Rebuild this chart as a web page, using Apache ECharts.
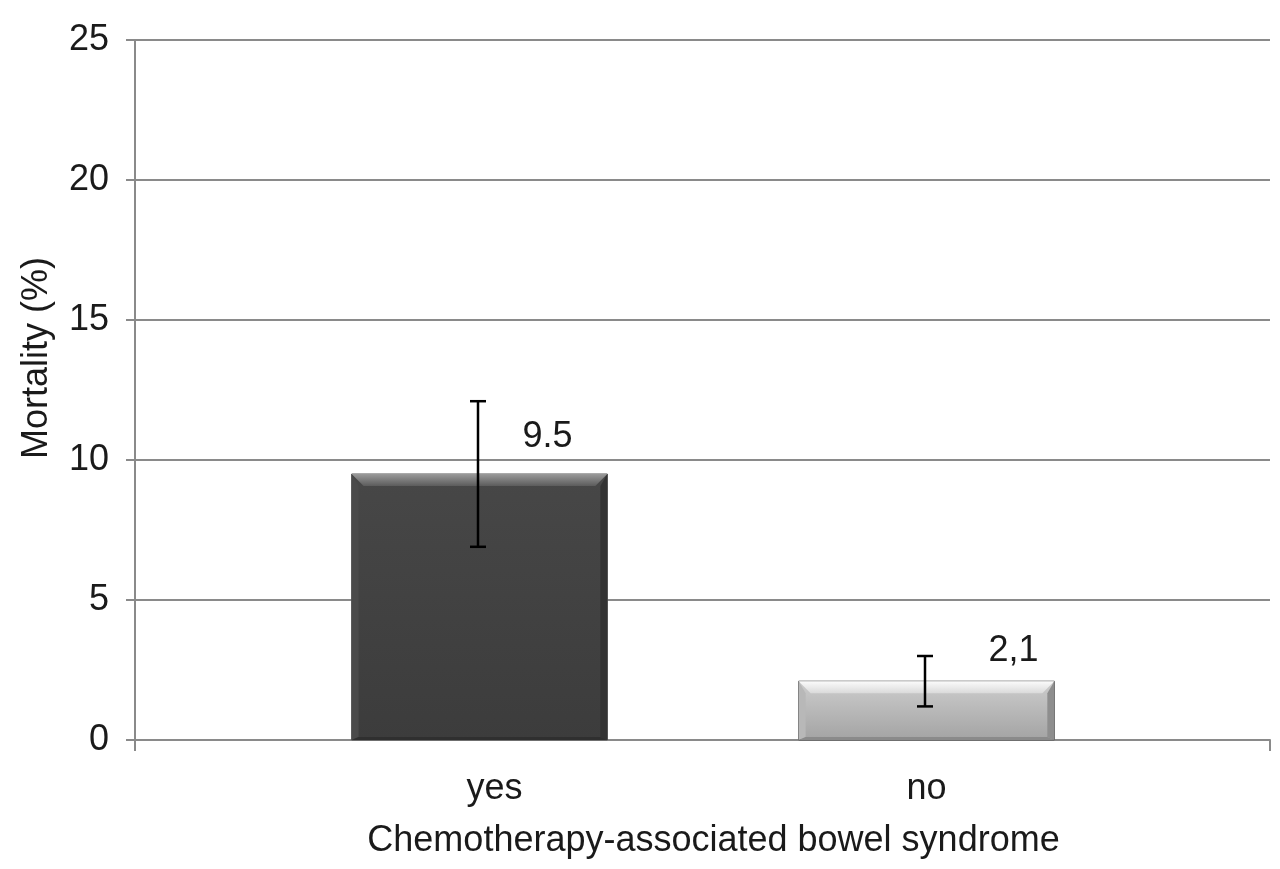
<!DOCTYPE html>
<html>
<head>
<meta charset="utf-8">
<script src="https://cdn.jsdelivr.net/npm/echarts@6/dist/echarts.min.js"></script>
<style>
html,body{margin:0;padding:0;background:#fff;}
#chart{width:1280px;height:869px;}
</style>
</head>
<body>
<div id="chart"></div>
<script>
// ---- data ----
const categories = ['yes', 'no'];
const mortality = [9.5, 2.1];
const errLow = [6.9, 1.2];
const errHigh = [12.1, 3.0];
const valueLabels = ['9.5', '2,1'];
const yTicks = [0, 5, 10, 15, 20, 25];

const FONT = 'Liberation Sans';
const GRAY = '#8a8a8a';

const barStyles = [
  { body: ['#474747', '#3c3c3c'], top: ['#9a9a9a', '#5c5c5c'], left: '#4a4a4a', right: '#333333', bottom: '#2f2f2f' },
  { body: ['#cdcdcd', '#a3a3a3'], top: ['#fbfbfb', '#dadada'], left: '#b8b8b8', right: '#8e8e8e', bottom: '#8a8a8a' }
];
const labelOffsets = [[68, -37], [87, -30]];

const chart = echarts.init(document.getElementById('chart'), null, { renderer: 'canvas' });

const txt = { fontFamily: FONT, fontSize: 36, color: '#1a1a1a' };

const option = {
  animation: false,
  backgroundColor: '#ffffff',
  grid: [
    { left: 135, right: 10, top: 40, bottom: 129 },
    { left: 256, right: 130, top: 40, bottom: 129 }
  ],
  xAxis: [
    {
      gridIndex: 0, type: 'value', min: 0, max: 1, interval: 1,
      axisLine: { show: true, lineStyle: { color: GRAY, width: 2 } },
      axisTick: { show: true, length: 11, lineStyle: { color: GRAY, width: 2 } },
      axisLabel: { show: false },
      splitLine: { show: false },
      name: 'Chemotherapy-associated bowel syndrome',
      nameLocation: 'middle',
      nameGap: 83,
      nameTextStyle: { fontFamily: FONT, fontSize: 36, color: '#1a1a1a', padding: [0, 0, 0, 22] }
    },
    {
      gridIndex: 1, type: 'category', data: categories, boundaryGap: true,
      axisLine: { show: false }, axisTick: { show: false },
      axisLabel: {
        fontFamily: FONT, fontSize: 36, color: '#1a1a1a', margin: 31,
        formatter: (v, i) => (i === 0 ? '{s|' + v + '}' : '{n|' + v + '}'),
        rich: {
          s: Object.assign({ padding: [0, 0, 0, 30] }, txt),
          n: Object.assign({}, txt)
        }
      },
      splitLine: { show: false }
    }
  ],
  yAxis: [
    {
      gridIndex: 0, type: 'value', min: 0, max: 25, interval: 5,
      axisLine: { show: true, lineStyle: { color: GRAY, width: 2 } },
      axisTick: { show: true, length: 9, lineStyle: { color: GRAY, width: 2 } },
      axisLabel: {
        fontFamily: FONT, fontSize: 36, color: '#1a1a1a', margin: 26,
        formatter: v => (yTicks.indexOf(v) >= 0 ? String(v) : '')
      },
      splitLine: { show: true, lineStyle: { color: GRAY, width: 2 } },
      name: 'Mortality (%)',
      nameLocation: 'middle',
      nameGap: 80,
      nameRotate: 90,
      nameTextStyle: { fontFamily: FONT, fontSize: 36, color: '#1a1a1a', padding: [0, 0, 0, 64] }
    },
    {
      gridIndex: 1, type: 'value', min: 0, max: 25, interval: 5, show: false
    }
  ],
  series: [
    {
      type: 'custom',
      xAxisIndex: 1, yAxisIndex: 1,
      data: categories.map((c, i) => [i, mortality[i]]),
      renderItem: function (params, api) {
        const i = params.dataIndex;
        const st = barStyles[i];
        const top = api.coord([api.value(0), api.value(1)]);
        const base = api.coord([api.value(0), 0]);
        const bw = api.size([1, 0])[0] * 0.572;
        const l = top[0] - bw / 2, r = top[0] + bw / 2;
        const y0 = top[1], y1 = base[1];
        const b = 12, s = 7;
        const lin = (c) => new echarts.graphic.LinearGradient(0, 0, 0, 1, [{ offset: 0, color: c[0] }, { offset: 1, color: c[1] }]);
        return {
          type: 'group',
          children: [
            { type: 'rect', shape: { x: l, y: y0, width: bw, height: y1 - y0 }, style: { fill: lin(st.body), stroke: '#555', lineWidth: 1 } },
            { type: 'polygon', shape: { points: [[l, y0], [r, y0], [r - b, y0 + b], [l + b, y0 + b]] }, style: { fill: lin(st.top) } },
            { type: 'polygon', shape: { points: [[l, y0], [l + s, y0 + b], [l + s, y1 - 3], [l, y1]] }, style: { fill: st.left } },
            { type: 'polygon', shape: { points: [[r, y0], [r - s, y0 + b], [r - s, y1 - 3], [r, y1]] }, style: { fill: st.right } },
            { type: 'polygon', shape: { points: [[l, y1], [r, y1], [r - s, y1 - 3], [l + s, y1 - 3]] }, style: { fill: st.bottom } }
          ]
        };
      },
      z: 3
    },
    {
      type: 'custom',
      xAxisIndex: 1, yAxisIndex: 1,
      data: categories.map((c, i) => [i, errLow[i], errHigh[i]]),
      renderItem: function (params, api) {
        const lo = api.coord([api.value(0), api.value(1)]);
        const hi = api.coord([api.value(0), api.value(2)]);
        const x = lo[0] - 1.5, cw = 8;
        const st = { stroke: '#000', lineWidth: 2.5 };
        return {
          type: 'group',
          children: [
            { type: 'line', shape: { x1: x, y1: lo[1], x2: x, y2: hi[1] }, style: st },
            { type: 'line', shape: { x1: x - cw, y1: lo[1], x2: x + cw, y2: lo[1] }, style: st },
            { type: 'line', shape: { x1: x - cw, y1: hi[1], x2: x + cw, y2: hi[1] }, style: st }
          ]
        };
      },
      z: 5
    },
    {
      type: 'custom',
      xAxisIndex: 1, yAxisIndex: 1,
      data: categories.map((c, i) => [i, mortality[i]]),
      renderItem: function (params, api) {
        const i = params.dataIndex;
        const p = api.coord([api.value(0), api.value(1)]);
        return {
          type: 'text',
          x: p[0] + labelOffsets[i][0],
          y: p[1] + labelOffsets[i][1],
          style: { text: valueLabels[i], fontFamily: FONT, fontSize: 36, fill: '#1a1a1a', align: 'center', verticalAlign: 'middle' }
        };
      },
      z: 6
    }
  ]
};
chart.setOption(option);
</script>
</body>
</html>
